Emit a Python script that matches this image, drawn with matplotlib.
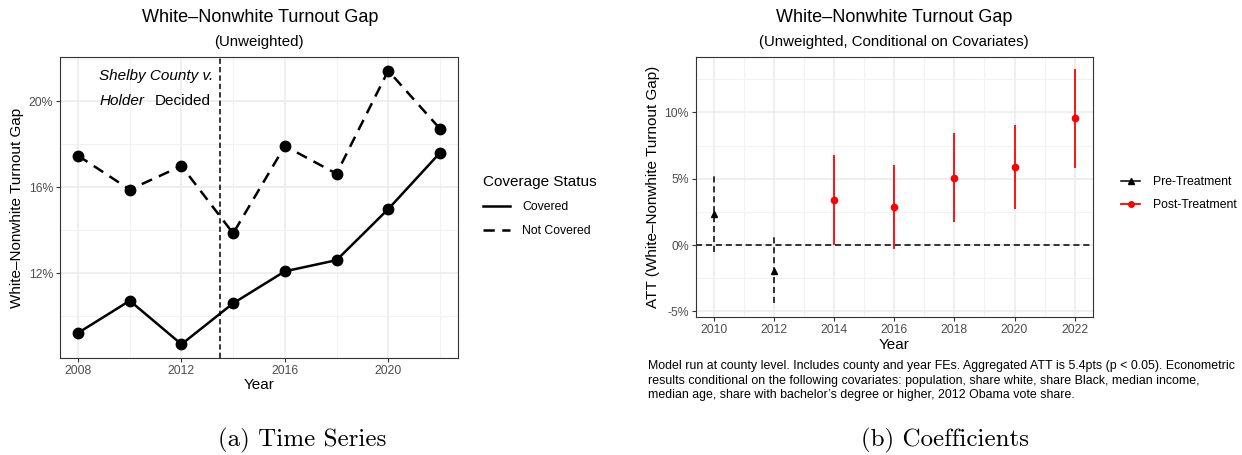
import numpy as np
import matplotlib
matplotlib.use('Agg')
from matplotlib import pyplot as plt
from matplotlib.lines import Line2D
from matplotlib.ticker import FixedLocator, FuncFormatter

plt.rcParams['font.family'] = ['Liberation Sans', 'DejaVu Sans']

# ---- data: panel (a) ----
years_a = [2008, 2010, 2012, 2014, 2016, 2018, 2020, 2022]
covered = [9.21, 10.71, 8.68, 10.59, 12.08, 12.60, 14.98, 17.60]
not_covered = [17.47, 15.89, 16.99, 13.85, 17.92, 16.63, 21.43, 18.73]
shelby_year = 2013.5

# ---- data: panel (b) ----
years_pre = [2010, 2012]
att_pre = [2.34, -1.96]
lo_pre = [-0.50, -4.40]
hi_pre = [5.41, 0.63]
years_post = [2014, 2016, 2018, 2020, 2022]
att_post = [3.40, 2.85, 5.08, 5.89, 9.54]
lo_post = [0.00, -0.30, 1.71, 2.74, 5.84]
hi_post = [6.80, 6.02, 8.44, 9.04, 13.27]

W, H = 1242, 455
fig = plt.figure(figsize=(W / 100, H / 100), dpi=100)

GRID = '#EBEBEB'
TICK = '#4D4D4D'
BORDER = '#333333'


def px_axes(x0, y0, x1, y1):
    return fig.add_axes([x0 / W, 1 - y1 / H, (x1 - x0) / W, (y1 - y0) / H])


def style(ax):
    ax.set_facecolor('white')
    for s in ax.spines.values():
        s.set_color(BORDER)
        s.set_linewidth(0.8)
    ax.grid(True, which='minor', color='#F2F2F2', linewidth=0.8)
    ax.grid(True, which='major', color=GRID, linewidth=1.1)
    ax.set_axisbelow(True)
    ax.tick_params(which='major', length=3, width=0.8, color=BORDER,
                   labelsize=8.8, labelcolor=TICK, pad=2)
    ax.tick_params(which='minor', length=0)


pct = FuncFormatter(lambda v, p: f'{v:.0f}%')

# ================= panel (a) =================
ax1 = px_axes(60, 57, 458, 358)
style(ax1)
dash = (0, (4.5, 3))
ax1.plot(years_a, covered, color='black', lw=1.8, marker='o', ms=7.5)
ax1.plot(years_a, not_covered, color='black', lw=1.8, marker='o', ms=7.5,
         ls=dash)
ax1.axvline(shelby_year, color='black', lw=1.1, ls=(0, (3.5, 2)))
ax1.set_xlim(2007.3, 2022.7)
ax1.set_ylim(8.04, 22.07)
ax1.xaxis.set_major_locator(FixedLocator([2008, 2012, 2016, 2020]))
ax1.xaxis.set_minor_locator(FixedLocator([2010, 2014, 2018, 2022]))
ax1.yaxis.set_major_locator(FixedLocator([12, 16, 20]))
ax1.yaxis.set_minor_locator(FixedLocator([10, 14, 18, 22]))
ax1.yaxis.set_major_formatter(pct)
ax1.set_xlabel('Year', fontsize=11, labelpad=1)
ax1.set_ylabel('White–Nonwhite Turnout Gap', fontsize=11, labelpad=3)

ax1.text(2013.22, 21.18, 'Shelby County v.', style='italic', fontsize=11,
         ha='right', va='center')
ax1.text(2010.56, 20.0, 'Holder', style='italic', fontsize=11,
         ha='right', va='center')
ax1.text(2013.15, 20.0, 'Decided', fontsize=11, ha='right', va='center')

fig.text(260 / W, 1 - 18 / H, 'White–Nonwhite Turnout Gap', fontsize=13,
         ha='center', va='center')
fig.text(259 / W, 1 - 42 / H, '(Unweighted)', fontsize=10.8,
         ha='center', va='center')

leg1 = ax1.legend(handles=[Line2D([], [], color='black', lw=1.8),
                           Line2D([], [], color='black', lw=1.8, ls=dash)],
                  labels=['Covered', 'Not Covered'],
                  title='Coverage Status', frameon=False, fontsize=8.8,
                  title_fontsize=11, handlelength=2.2, handletextpad=1.0,
                  labelspacing=1.0, loc='upper left',
                  bbox_to_anchor=(478 / W, 1 - 170 / H),
                  bbox_transform=fig.transFigure, borderaxespad=0)
leg1._legend_box.align = 'left'

# ================= panel (b) =================
ax2 = px_axes(695.7, 57.3, 1092.7, 317.3)
style(ax2)
ax2.axhline(0, color='black', lw=1.1, ls=(0, (4, 2.5)), zorder=2)
ax2.vlines(years_pre, lo_pre, hi_pre, color='black', lw=1.1,
           linestyles=(0, (4, 2.5)), zorder=3)
ax2.plot(years_pre, att_pre, ls='none', marker='^', ms=5, color='black',
         zorder=4)
ax2.vlines(years_post, lo_post, hi_post, color='red', lw=1.3, zorder=3)
ax2.plot(years_post, att_post, ls='none', marker='o', ms=4.5, color='red',
         zorder=4)
ax2.set_xlim(2009.4, 2022.6)
ax2.set_ylim(-5.45, 14.15)
ax2.xaxis.set_major_locator(FixedLocator(list(range(2010, 2023, 2))))
ax2.xaxis.set_minor_locator(FixedLocator(list(range(2011, 2023, 2))))
ax2.yaxis.set_major_locator(FixedLocator([-5, 0, 5, 10]))
ax2.yaxis.set_minor_locator(FixedLocator([-2.5, 2.5, 7.5, 12.5]))
ax2.yaxis.set_major_formatter(pct)
ax2.set_xlabel('Year', fontsize=11, labelpad=1)
ax2.set_ylabel('ATT (White–Nonwhite Turnout Gap)', fontsize=11, labelpad=3)

fig.text(894 / W, 1 - 18 / H, 'White–Nonwhite Turnout Gap', fontsize=13,
         ha='center', va='center')
fig.text(894 / W, 1 - 42 / H, '(Unweighted, Conditional on Covariates)',
         fontsize=10.8, ha='center', va='center')

leg2 = ax2.legend(handles=[Line2D([], [], color='black', lw=1.1,
                                  marker='^', ms=5),
                           Line2D([], [], color='red', lw=1.3,
                                  marker='o', ms=4)],
                  labels=['Pre-Treatment', 'Post-Treatment'],
                  frameon=False, fontsize=8.8, handlelength=1.6,
                  handletextpad=1.0, labelspacing=0.95, loc='upper left',
                  bbox_to_anchor=(1116 / W, 1 - 171 / H),
                  bbox_transform=fig.transFigure, borderaxespad=0)

note = ('Model run at county level. Includes county and year FEs. Aggregated ATT is 5.4pts (p < 0.05). Econometric\n'
        'results conditional on the following covariates: population, share white, share Black, median income,\n'
        'median age, share with bachelor\u2019s degree or higher, 2012 Obama vote share.')
fig.text(648 / W, 1 - 360 / H, note, fontsize=8.9, ha='left', va='top',
         linespacing=1.28)

# ---- sub-captions ----
fig.text(302 / W, 1 - 440 / H, '(a) Time Series', family='cmr10',
         fontsize=18, ha='center', va='center')
fig.text(945 / W, 1 - 440 / H, '(b) Coefficients', family='cmr10',
         fontsize=18, ha='center', va='center')

fig.savefig('out.png', dpi=100)
